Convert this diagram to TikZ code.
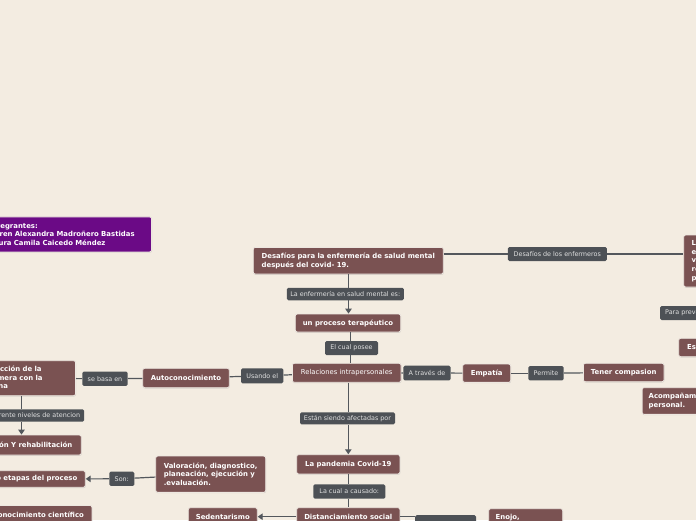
\documentclass[tikz,border=0pt]{standalone}
\usepackage{fontspec}
\setmainfont{DejaVu Sans}
\usetikzlibrary{arrows.meta,shadows}
\definecolor{bg}{HTML}{F3ECE1}
\definecolor{brn}{HTML}{7A5252}
\definecolor{lab}{HTML}{4D5156}
\definecolor{pur}{HTML}{6B0A86}
\definecolor{ln}{HTML}{53575C}
\definecolor{rim}{HTML}{EDE7E0}
\newcommand\myfb{\fontsize{6.9}{8.6}\selectfont\bfseries}
\newcommand\myfr{\fontsize{6.8}{8.6}\selectfont}
\newcommand\myfl{\fontsize{6.4}{8}\selectfont}
\begin{document}
\begin{tikzpicture}[x=1pt,y=-1pt,
  nbox/.style={rounded corners=2pt, draw=rim, line width=0.8pt, text=white, inner sep=0pt, align=left,
    drop shadow={opacity=0.25,shadow xshift=0.4pt,shadow yshift=-0.8pt}},
  bn/.style={nbox, fill=brn, font=\myfb},
  rn/.style={nbox, fill=brn, font=\myfr},
  pn/.style={nbox, fill=pur, font=\myfb},
  lb/.style={rounded corners=1.5pt, fill=lab, text=white!88!black, font=\myfl, inner sep=0pt},
  conn/.style={draw=ln, line width=1.2pt},
  arr/.style={conn, -{Triangle[length=5pt,width=6.5pt]}},
]
\useasboundingbox (0,0) rectangle (696,520);
\clip (0,0) rectangle (696,520);
\fill[bg] (0,0) rectangle (696,520);

% nodes
\node[pn, anchor=north east, text width=155pt, inner xsep=7pt, minimum height=35pt] (integ) at (152,216.5) {Integrantes:\\Karen Alexandra Madroñero Bastidas\\Laura Camila Caicedo Méndez};
\node[bn, minimum width=190pt, minimum height=26.7pt] (desaf) at (348.3,260.7) {Desafíos para la enfermería de salud mental\\después del covid- 19.};
\node[lb, minimum width=99pt, minimum height=14pt] (denf) at (557.3,254) {Desafíos de los enfermeros};
\node[bn, anchor=west, text width=60pt, inner xsep=8pt, minimum height=52pt] (rt) at (683.3,261) {La\\e\\v\\re\\p};
\node[lb, anchor=west, minimum height=14pt, inner xsep=5pt] (prev) at (660,313) {Para prevenir};
\node[bn, anchor=west, minimum height=18.4pt, inner xsep=8.4pt] (es) at (678.3,347.5) {Es};
\node[bn, anchor=west, text width=80pt, inner xsep=6.6pt, minimum height=26.7pt] (acom) at (641.7,401) {Acompañamiento\\personal.};

\node[lb, minimum width=117pt, minimum height=12.5pt] (l1) at (345.3,294) {La enfermería en salud mental es:};
\node[bn, minimum width=105.4pt, minimum height=18pt] (proc) at (348,323) {un proceso terapéutico};
\node[lb, minimum width=53pt, minimum height=14pt] (posee) at (351.5,348) {El cual posee};
\node[rn, minimum width=108.7pt, minimum height=19pt] (rel) at (346.7,372.8) {Relaciones intrapersonales};
\node[lb, minimum width=47.4pt, minimum height=14.6pt] (trav) at (427,373) {A través de};
\node[bn, minimum width=48pt, minimum height=18.3pt] (emp) at (486.7,373.2) {Empatía};
\node[lb, minimum width=35.4pt, minimum height=14.3pt] (perm) at (546,373.2) {Permite};
\node[bn, minimum width=80.7pt, minimum height=18.4pt] (ten) at (623.7,372.5) {Tener compasion};
\node[lb, minimum width=42.3pt, minimum height=15pt] (usa) at (262.2,375.8) {Usando el};
\node[bn, minimum width=86.6pt, minimum height=19.4pt] (auto) at (186,378) {Autoconocimiento};
\node[lb, minimum width=45.4pt, minimum height=14.3pt] (basa) at (105,378.8) {se basa en};
\node[bn, anchor=east, text width=92pt, inner xsep=7pt, minimum height=35pt] (inter) at (76,378.2) {Interacción de la\\enfermera con la\\persona};
\node[lb, anchor=east, inner xsep=4pt, minimum height=12.4pt] (dif) at (84.3,415.5) {Diferente niveles de atencion};
\node[bn, anchor=east, inner xsep=9pt, minimum height=20pt] (rehab) at (81.7,445) {Prevención Y rehabilitación};
\node[bn, minimum width=110pt, minimum height=36.3pt] (val) at (210.7,474.2) {Valoración, diagnostico,\\planeación, ejecución y\\.evaluación.};
\node[lb, minimum width=25pt, minimum height=14.3pt] (son) at (121.8,478.8) {Son:};
\node[bn, anchor=east, inner xsep=8pt, minimum height=16.6pt] (etap) at (85.7,479) {Cinco etapas del proceso};
\node[bn, anchor=north east, inner xsep=8pt, minimum height=18pt] (conoc) at (92.3,505) {Conocimiento científico};
\node[lb, minimum width=95pt, minimum height=12pt] (afec) at (347.5,418.3) {Están siendo afectadas por};
\node[bn, minimum width=103.3pt, minimum height=19.3pt] (pand) at (348.3,464.3) {La pandemia Covid-19};
\node[lb, minimum width=72pt, minimum height=14.4pt] (caus) at (349.3,491.5) {La cual a causado:};
\node[bn, anchor=north, minimum width=103.3pt, minimum height=18pt] (dist) at (348.3,507.3) {Distanciamiento social};
\node[bn, anchor=north, minimum width=69pt, minimum height=18pt] (sed) at (222.8,507.3) {Sedentarismo};
\node[lb, anchor=north west, minimum width=61pt, minimum height=14pt] (lx) at (415,515) {};
\node[bn, anchor=north west, text width=60pt, inner xsep=7pt, minimum height=18pt] (eno) at (488.3,508.3) {Enojo,};

% connectors
\coordinate (v1) at (348.5,0);
\coordinate (v2) at (350.8,0);
\coordinate (v3) at (348.3,0);
\coordinate (v4) at (21.5,0);
\draw[conn] (v1 |- desaf.south) -- (v1 |- l1.north);
\draw[arr] (v1 |- l1.south) -- (v1 |- proc.north);
\draw[conn] (v2 |- proc.south) -- (v2 |- posee.north);
\draw[conn] (v2 |- posee.south) -- (v2 |- rel.north);
\draw[conn] (rel) -- (trav);
\draw[conn] (trav) -- (emp);
\draw[conn] (emp) -- (perm);
\draw[conn] (perm) -- (ten);
\draw[conn] (rel) -- (usa);
\draw[conn] (usa) -- (auto);
\draw[conn] (auto) -- (basa);
\draw[conn] (basa) -- (inter);
\draw[conn] (v4 |- inter.south) -- (v4 |- dif.north);
\draw[arr] (v4 |- dif.south) -- (v4 |- rehab.north);
\draw[conn] (val) -- (son);
\draw[arr] (son) -- (etap);
\draw[conn] (v3 |- rel.south) -- (v3 |- afec.north);
\draw[arr] (v3 |- afec.south) -- (v3 |- pand.north);
\draw[conn] (v3 |- pand.south) -- (v3 |- caus.north);
\draw[conn] (v3 |- caus.south) -- (v3 |- dist.north);
\draw[arr] (dist) -- (sed);
\draw[conn] (dist.east) -- (dist.east -| lx.west);
\draw[conn] (desaf.east |- denf.west) -- (denf.west);
\draw[conn] (denf.east) -- (rt.west |- denf.east);
\end{tikzpicture}
\end{document}
